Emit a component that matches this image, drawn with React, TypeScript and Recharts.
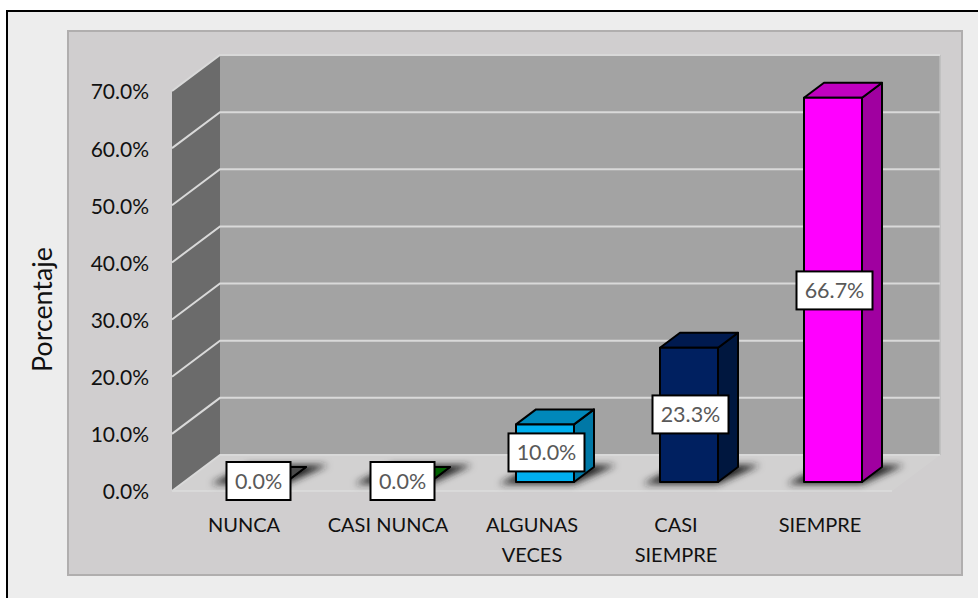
import { Bar, BarChart, CartesianGrid, LabelList, XAxis, YAxis, usePlotArea } from "recharts"

const categories = ["NUNCA", "CASI NUNCA", "ALGUNAS VECES", "CASI SIEMPRE", "SIEMPRE"]
const categoryLines = [["NUNCA"], ["CASI NUNCA"], ["ALGUNAS", "VECES"], ["CASI", "SIEMPRE"], ["SIEMPRE"]]
const percentages = [0, 0, 10, 23.3, 66.7]
const yTicks = [0, 10, 20, 30, 40, 50, 60, 70]

const frontColors = ["#595959", "#006600", "#00b0f0", "#002060", "#ff00ff"]
const topColors = ["#4a4a4a", "#006000", "#0088ba", "#001a4f", "#c000c0"]
const sideColors = ["#404040", "#004d00", "#0078a6", "#00173f", "#a000a0"]

const data = categories.map((name, i) => ({ name, value: percentages[i] }))

const FONT = "Lato, sans-serif"

// depth of the 3D box the plot sits in
const DEPTH_X = 48
const DEPTH_Y = -36
// bars stand part way into the floor and have their own shallower depth
const BAR_SHIFT_X = 13
const BAR_SHIFT_Y = -9
const BAR_DEPTH_X = 20
const BAR_DEPTH_Y = -15
// small perspective gain for marks nearer the viewer than the front axis plane
const BAR_GAIN = 1.008

const pts = (list: number[][]) => list.map((p) => p.join(",")).join(" ")

function Walls() {
  const plot = usePlotArea()
  if (!plot) return null
  const { x, y, width, height } = plot
  const bottom = y + height
  const right = x + width
  return (
    <g>
      <defs>
        <filter id="floorShadow" x="-30%" y="-60%" width="160%" height="220%">
          <feGaussianBlur stdDeviation="3.5" />
        </filter>
      </defs>
      <polygon
        points={pts([[x, bottom], [x + DEPTH_X, bottom + DEPTH_Y], [right + DEPTH_X, bottom + DEPTH_Y], [right, bottom]])}
        fill="#d2d1d1"
      />
      <rect x={x + DEPTH_X} y={y + DEPTH_Y} width={width} height={height} fill="#a3a3a3" />
      <polygon
        points={pts([[x, y], [x + DEPTH_X, y + DEPTH_Y], [x + DEPTH_X, bottom + DEPTH_Y], [x, bottom]])}
        fill="#6b6b6b"
      />
      <line x1={right + DEPTH_X} y1={y + DEPTH_Y} x2={right + DEPTH_X} y2={bottom + DEPTH_Y} stroke="#bdbdbd" strokeWidth={1.5} />
    </g>
  )
}

// grid line that runs across the side wall and then along the back wall
function WallLine(props: any) {
  const { x1, x2, y1, index } = props
  const isFloor = y1 === 491
  return (
    <g key={index}>
      {isFloor && <line x1={x1} y1={y1} x2={x2} y2={y1} stroke="#dcdcdc" strokeWidth={1.5} />}
      <polyline
        points={pts([[x1, y1], [x1 + DEPTH_X, y1 + DEPTH_Y], [x2 + DEPTH_X, y1 + DEPTH_Y]])}
        fill="none"
        stroke="#d9d9d9"
        strokeWidth={2}
      />
    </g>
  )
}

function Box3D(props: any) {
  const { x, y, width, height, index } = props
  const left = x + BAR_SHIFT_X
  const right = left + width
  const base = y + height + BAR_SHIFT_Y
  const top = base - height * BAR_GAIN
  const dx = BAR_DEPTH_X
  const dy = BAR_DEPTH_Y
  return (
    <g stroke="#000" strokeWidth={2} strokeLinejoin="round">
      <polygon
        points={pts([[left - 17, base + 2], [right, base + 2], [right + dx + 22, base + dy - 2], [left + dx, base + dy - 2]])}
        fill="#222"
        stroke="none"
        filter="url(#floorShadow)"
      />
      <polygon points={pts([[right, top], [right + dx, top + dy], [right + dx, base + dy], [right, base]])} fill={sideColors[index]} />
      <polygon points={pts([[left, top], [left + dx, top + dy], [right + dx, top + dy], [right, top]])} fill={topColors[index]} />
      <rect x={left} y={top} width={width} height={base - top} fill={frontColors[index]} />
    </g>
  )
}

function ValueTag(props: any) {
  const { x, y, width, height, value } = props
  const text = `${Number(value).toFixed(1)}%`
  const boxWidth = value === 0 ? 64 : 76
  const cx = x + BAR_SHIFT_X + width / 2 + 1.5
  const cy = y + BAR_SHIFT_Y + height / 2 - 1
  return (
    <g>
      <rect x={cx - boxWidth / 2} y={cy - 19} width={boxWidth} height={38} fill="#fff" stroke="#000" strokeWidth={2} />
      <text x={cx} y={cy + 7.5} textAnchor="middle" fontFamily={FONT} fontSize={21.5} fill="#595959">
        {text}
      </text>
    </g>
  )
}

function CategoryTick(props: any) {
  const { x, y, index } = props
  return (
    <text x={x} y={y + 12} textAnchor="middle" fontFamily={FONT} fontSize={20} fill="#111">
      {categoryLines[index].map((line, i) => (
        <tspan key={line} x={x} dy={i === 0 ? 0 : 30}>
          {line}
        </tspan>
      ))}
    </text>
  )
}

export default function App() {
  return (
    <div style={{ position: "absolute", left: 0, top: 0, width: 978, height: 598, background: "#fff", overflow: "hidden" }}>
      <div
        style={{
          position: "absolute",
          left: 6,
          top: 10,
          width: 972,
          height: 588,
          background: "#ededed",
          borderLeft: "2px solid #000",
          borderTop: "2px solid #000",
          boxSizing: "border-box",
        }}
      />
      <div
        style={{
          position: "absolute",
          left: 67,
          top: 30,
          width: 896,
          height: 546,
          background: "#d0cecf",
          border: "2px solid #b0aeae",
          boxSizing: "border-box",
        }}
      />
      <div style={{ position: "absolute", left: 0, top: 0 }}>
        <BarChart
          width={978}
          height={598}
          data={data}
          barSize={58}
          margin={{ top: 91, right: 86, bottom: 0, left: 100 }}
        >
          <Walls />
          <CartesianGrid vertical={false} horizontal={WallLine} zIndex={100} />
          <XAxis
            dataKey="name"
            height={107}
            axisLine={false}
            tickLine={false}
            interval={0}
            tick={CategoryTick}
            tickMargin={23}
          />
          <YAxis
            domain={[0, 70]}
            ticks={yTicks}
            width={72}
            axisLine={false}
            tickLine={false}
            tickMargin={17}
            tickFormatter={(v: number) => `${v.toFixed(1)}%`}
            tick={{ fontFamily: FONT, fontSize: 21, fill: "#111", dy: 1 }}
          />
          <Bar dataKey="value" shape={Box3D} isAnimationActive={false}>
            <LabelList dataKey="value" content={ValueTag} />
          </Bar>
          <text
            transform="translate(52 309.5) rotate(-90)"
            textAnchor="middle"
            fontFamily={FONT}
            fontSize={26.8}
            fill="#111"
          >
            Porcentaje
          </text>
        </BarChart>
      </div>
    </div>
  )
}
